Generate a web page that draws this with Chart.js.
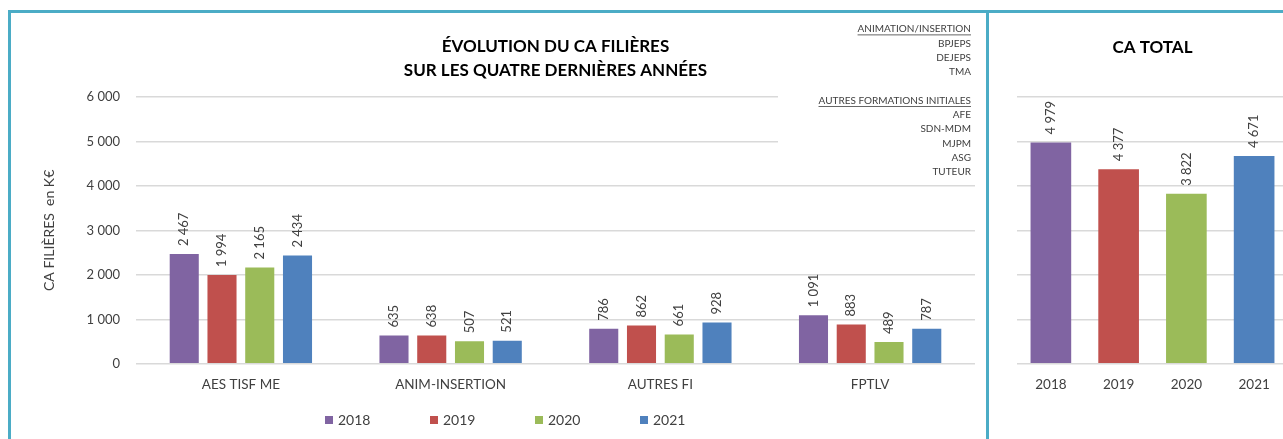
<!DOCTYPE html>
<html>
<head>
<meta charset="utf-8">
<script src="https://cdn.jsdelivr.net/npm/chart.js"></script>
<style>
  html, body { margin: 0; padding: 0; background: #fff; }
  body { width: 1283px; height: 439px; overflow: hidden; position: relative; font-family: Lato, sans-serif; }
  .frame { position: absolute; left: 8px; top: 10px; width: 1400px; height: 500px; border: 3px solid #4bacc6; box-sizing: border-box; }
  .divider { position: absolute; left: 986px; top: 10px; width: 3px; height: 440px; background: #4bacc6; }
  #leftBox { position: absolute; left: 11px; top: 13px; width: 975px; height: 426px; }
  #rightBox { position: absolute; left: 990px; top: 13px; width: 310px; height: 426px; }
  #legend { position: absolute; left: 325px; top: 411px; display: flex; }
  #legend span.item { display: flex; align-items: center; font-size: 14px; color: #404040; width: 105px; }
  #legend span.box { display: inline-block; width: 8px; height: 8px; margin-right: 5px; }
</style>
</head>
<body>
<div class="frame"></div>
<div class="divider"></div>
<div id="leftBox"><canvas id="filieres" width="975" height="426"></canvas></div>
<div id="rightBox"><canvas id="total" width="310" height="426"></canvas></div>
<div id="legend"></div>

<script>
var filieres = ['AES TISF ME', 'ANIM-INSERTION', 'AUTRES FI', 'FPTLV'];
var years = ['2018', '2019', '2020', '2021'];

// CA par filière, en K€
var ca2018 = [2467, 635, 786, 1091];
var ca2019 = [1994, 638, 862, 883];
var ca2020 = [2165, 507, 661, 489];
var ca2021 = [2434, 521, 928, 787];

var caTotal = [4979, 4377, 3822, 4671];

var yTicks = [0, 1000, 2000, 3000, 4000, 5000, 6000];

var yearColors = ['#8064a2', '#c0504d', '#9bbb59', '#4f81bd'];

var animInsertion = ['BPJEPS', 'DEJEPS', 'TMA'];
var autresFI = ['AFE', 'SDN-MDM', 'MJPM', 'ASG', 'TUTEUR'];

var fontName = 'Lato, "Open Sans", sans-serif';

function fmt(v) {
    return String(v).replace(/\B(?=(\d{3})+(?!\d))/g, ' ');
}

// rotated value above each bar
var barValues = {
    id: 'barValues',
    afterDatasetsDraw: function(chart) {
        var ctx = chart.ctx;
        ctx.save();
        ctx.font = '13px ' + fontName;
        ctx.fillStyle = '#404040';
        ctx.textAlign = 'left';
        ctx.textBaseline = 'middle';
        chart.data.datasets.forEach(function(ds, i) {
            chart.getDatasetMeta(i).data.forEach(function(bar, j) {
                ctx.save();
                ctx.translate(bar.x, bar.y - 8);
                ctx.rotate(-Math.PI / 2);
                ctx.fillText(fmt(ds.data[j]), 0, 0);
                ctx.restore();
            });
        });
        ctx.restore();
    }
};

// text box with the list of formations (top right of left panel)
var notesBox = {
    id: 'notesBox',
    afterDraw: function(chart) {
        var ctx = chart.ctx;
        ctx.save();
        ctx.fillStyle = '#fff';
        ctx.fillRect(767, 5, 200, 162);
        ctx.font = '10px ' + fontName;
        ctx.fillStyle = '#404040';
        ctx.textAlign = 'right';
        ctx.textBaseline = 'middle';
        var x = 960, y = 16, step = 14.3;
        function header(t) {
            ctx.fillText(t, x, y);
            var w = ctx.measureText(t).width;
            ctx.fillRect(x - w, y + 5.5, w, 0.8);
            y += step;
        }
        header('ANIMATION/INSERTION');
        animInsertion.forEach(function(t) { ctx.fillText(t, x, y); y += step; });
        y += step;
        header('AUTRES FORMATIONS INITIALES');
        autresFI.forEach(function(t) { ctx.fillText(t, x, y); y += step; });
        ctx.restore();
    }
};

var gridStyle = { color: '#d9d9d9', lineWidth: 1.5, drawTicks: false };

var leftChart = new Chart('filieres', {
    type: 'bar',
    data: {
        labels: filieres,
        datasets: [ca2018, ca2019, ca2020, ca2021].map(function(d, i) {
            return {
                label: years[i],
                data: d,
                backgroundColor: yearColors[i],
                categoryPercentage: 0.72,
                barPercentage: 0.77
            };
        })
    },
    options: {
        responsive: false,
        animation: false,
        layout: { padding: { top: 22, right: 11, bottom: 41, left: 0 } },
        plugins: {
            legend: { display: false },
            tooltip: { enabled: false },
            title: {
                display: true,
                fullSize: false,
                text: ['ÉVOLUTION DU CA FILIÈRES', 'SUR LES QUATRE DERNIÈRES ANNÉES'],
                color: '#000',
                font: { family: fontName, size: 17, weight: 'bold', lineHeight: 1.41 },
                padding: { top: 0, bottom: 14 }
            }
        },
        scales: {
            x: {
                grid: { display: false },
                border: { display: false },
                ticks: { color: '#404040', font: { family: fontName, size: 13.5 }, padding: 5 }
            },
            y: {
                min: 0,
                max: 6000,
                afterBuildTicks: function(scale) { scale.ticks = yTicks.map(function(v) { return { value: v }; }); },
                afterFit: function(scale) { scale.width = 125; },
                grid: gridStyle,
                border: { display: false },
                ticks: {
                    color: '#404040',
                    font: { family: fontName, size: 13 },
                    padding: 16,
                    callback: function(v) { return fmt(v); }
                },
                title: {
                    display: true,
                    text: 'CA FILIÈRES  en K€',
                    color: '#404040',
                    font: { family: fontName, size: 14 },
                    padding: { top: 30, bottom: 0 }
                }
            }
        }
    },
    plugins: [barValues, notesBox]
});

var rightChart = new Chart('total', {
    type: 'bar',
    data: {
        labels: years,
        datasets: [{
            label: 'CA TOTAL',
            data: caTotal,
            backgroundColor: yearColors,
            categoryPercentage: 0.6,
            barPercentage: 1
        }]
    },
    options: {
        responsive: false,
        animation: false,
        layout: { padding: { top: 23, right: 12, bottom: 41, left: 0 } },
        plugins: {
            legend: { display: false },
            tooltip: { enabled: false },
            title: {
                display: true,
                fullSize: false,
                text: 'CA TOTAL',
                color: '#000',
                font: { family: fontName, size: 17, weight: 'bold', lineHeight: 1.41 },
                padding: { top: 0, bottom: 37 }
            }
        },
        scales: {
            x: {
                grid: { display: false },
                border: { display: false },
                ticks: { color: '#404040', font: { family: fontName, size: 13.5 }, padding: 5 }
            },
            y: {
                min: 0,
                max: 6000,
                afterBuildTicks: function(scale) { scale.ticks = yTicks.map(function(v) { return { value: v }; }); },
                afterFit: function(scale) { scale.width = 27; },
                grid: gridStyle,
                border: { display: false },
                ticks: { display: false }
            }
        }
    },
    plugins: [barValues]
});

// legend under the left chart
var legendEl = document.getElementById('legend');
years.forEach(function(y, i) {
    var item = document.createElement('span');
    item.className = 'item';
    var box = document.createElement('span');
    box.className = 'box';
    box.style.background = yearColors[i];
    item.appendChild(box);
    item.appendChild(document.createTextNode(y));
    legendEl.appendChild(item);
});
</script>
</body>
</html>
